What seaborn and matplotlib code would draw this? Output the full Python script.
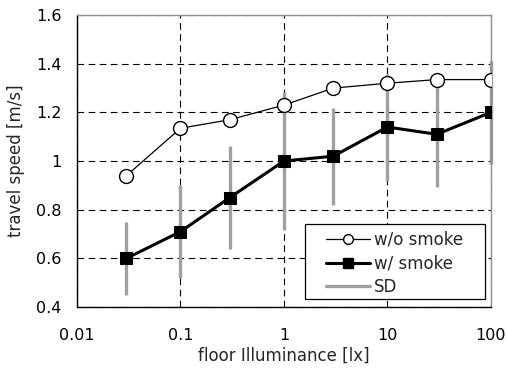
import numpy as np
import pandas as pd
import matplotlib
matplotlib.use("Agg")
import matplotlib.pyplot as plt
import seaborn as sns
from matplotlib.lines import Line2D
from matplotlib.patches import Rectangle

# Floor illuminance levels [lx]
illuminance = [0.03, 0.1, 0.3, 1, 3, 10, 30, 100]
# Mean travel speed [m/s]
speed_no_smoke = [0.94, 1.135, 1.17, 1.23, 1.30, 1.32, 1.335, 1.335]
speed_smoke = [0.60, 0.71, 0.85, 1.00, 1.02, 1.14, 1.11, 1.20]
# Standard deviation of travel speed with smoke [m/s]
sd_smoke = [0.15, 0.19, 0.21, 0.285, 0.20, 0.22, 0.215, 0.21]

x_ticks = [0.01, 0.1, 1, 10, 100]
x_tick_labels = ["0.01", "0.1", "1", "10", "100"]
y_ticks = [0.4, 0.6, 0.8, 1.0, 1.2, 1.4, 1.6]
y_tick_labels = ["0.4", "0.6", "0.8", "1", "1.2", "1.4", "1.6"]

sns.set_style("white")
plt.rcParams["font.family"] = ["DejaVu Sans"]

df = pd.DataFrame({
    "lux": illuminance * 2,
    "speed": speed_no_smoke + speed_smoke,
    "cond": ["w/o smoke"] * len(illuminance) + ["w/ smoke"] * len(illuminance),
})

fig = plt.figure(figsize=(5.07, 3.69), dpi=100)
ax = fig.add_axes([0.152, 0.168, 0.816, 0.791])

sd_color = "#a0a0a0"
ax.vlines(illuminance,
          np.array(speed_smoke) - np.array(sd_smoke),
          np.array(speed_smoke) + np.array(sd_smoke),
          color=sd_color, lw=2.4, zorder=2, clip_on=False)

sns.lineplot(data=df[df.cond == "w/o smoke"], x="lux", y="speed", ax=ax,
             color="black", lw=0.9, marker="o", markersize=10,
             markerfacecolor="white", markeredgecolor="black",
             markeredgewidth=1.0, zorder=4, legend=False)
sns.lineplot(data=df[df.cond == "w/ smoke"], x="lux", y="speed", ax=ax,
             color="black", lw=2.2, marker="s", markersize=9,
             markerfacecolor="black", markeredgecolor="black",
             zorder=3, legend=False)

ax.set_xscale("log")
ax.set_xlim(0.01, 100)
ax.set_ylim(0.4, 1.6)
ax.set_xticks(x_ticks)
ax.set_xticklabels(x_tick_labels)
ax.set_yticks(y_ticks)
ax.set_yticklabels(y_tick_labels)
ax.minorticks_off()

ax.grid(True, which="major", color="black", linestyle=(0, (6, 4)), lw=0.8)
ax.set_axisbelow(True)

ax.tick_params(axis="both", direction="in", length=4, width=0.8,
               labelsize=11.5, colors="black")
ax.tick_params(axis="x", pad=15)
ax.tick_params(axis="y", pad=11)

for side in ("left", "bottom"):
    ax.spines[side].set_color("black")
    ax.spines[side].set_linewidth(1.0)
for side in ("top", "right"):
    ax.spines[side].set_color("#909090")
    ax.spines[side].set_linewidth(1.0)

ax.set_xlabel("floor Illuminance [lx]", fontsize=12, labelpad=3)
ax.set_ylabel("travel speed [m/s]", fontsize=12, labelpad=8)

# Legend frame drawn separately so the entries can sit right of centre
ax.add_patch(Rectangle((0.551, 0.027), 0.435, 0.257, transform=ax.transAxes,
                       facecolor="white", edgecolor="black", lw=0.9,
                       zorder=4.5))

handles = [
    Line2D([], [], color="black", lw=0.9, marker="o", markersize=7,
           markerfacecolor="white", markeredgecolor="black"),
    Line2D([], [], color="black", lw=2.2, marker="s", markersize=7,
           markerfacecolor="black"),
    Line2D([], [], color=sd_color, lw=2.4),
]
leg = ax.legend(handles, ["w/o smoke", "w/ smoke", "SD"], loc="upper left",
                bbox_to_anchor=(0.601, 0.262), borderaxespad=0, borderpad=0,
                fontsize=12, frameon=False,
                handlelength=2.65, handletextpad=0.25, labelspacing=0.35)
leg.set_zorder(5)

fig.savefig("out.png", dpi=100)
